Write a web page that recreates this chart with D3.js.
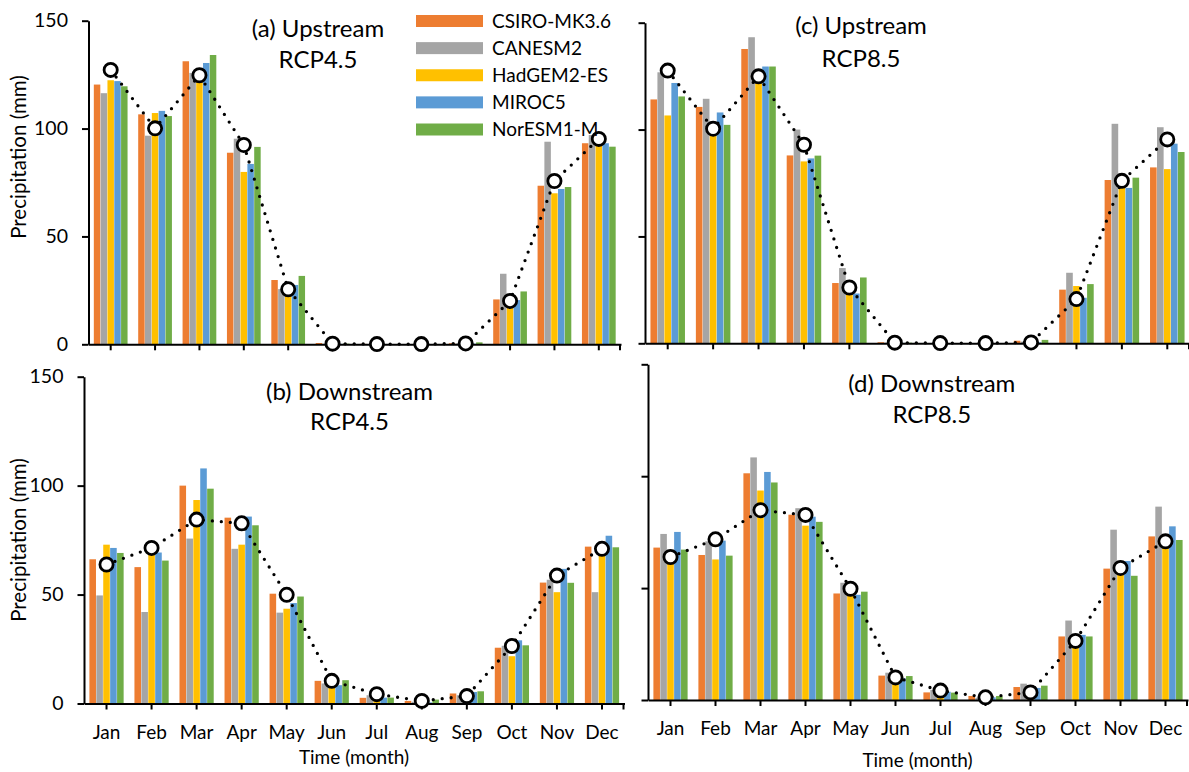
<!DOCTYPE html>
<html><head><meta charset="utf-8">
<script src="https://cdn.jsdelivr.net/npm/d3@7"></script>
<style>
body{margin:0;background:#fff}
svg{display:block}
text{font-family:Lato,"Noto Sans",sans-serif;fill:#000}
</style>
</head><body>
<svg id="chart" width="1189" height="772"></svg>
<script>
// ---------- DATA ----------
const months = ["Jan","Feb","Mar","Apr","May","Jun","Jul","Aug","Sep","Oct","Nov","Dec"];
const models = ["CSIRO-MK3.6","CANESM2","HadGEM2-ES","MIROC5","NorESM1-M"];
const modelColors = ["#ED7D31","#A5A5A5","#FFC000","#5B9BD5","#70AD47"];
const yTicks = [0,50,100,150];

// (a) Upstream RCP4.5 — rows follow `models`
const upstreamRcp45 = [
  [120.4,106.6,131.2,88.8,29.8,0.6,0.2,0.1,0.5,20.8,73.5,93.2],
  [116.4,96.7,125.8,95.3,25.6,0.2,0.1,0.1,0.4,32.7,93.9,97.0],
  [122.4,107.2,123.0,79.9,25.0,0.2,0.1,0.1,0.3,19.5,70.0,93.0],
  [122.0,108.2,130.4,83.6,27.5,0.2,0.1,0.1,0.3,20.5,72.0,93.2],
  [119.6,105.8,134.1,91.5,31.7,0.3,0.1,0.1,0.9,24.5,72.9,91.6]
];
const upstreamRcp45Base = [127.2,100.1,124.7,92.4,25.5,0.3,0.1,0.1,0.4,20.1,75.7,95.2];

// (c) Upstream RCP8.5
const upstreamRcp85 = [
  [114.1,110.6,137.7,87.9,28.2,0.5,0.1,0.1,1.2,25.1,76.4,82.3],
  [126.8,114.4,143.2,100.0,35.2,0.3,0.1,0.1,0.8,33.0,102.7,101.1],
  [106.6,99.0,123.7,85.1,24.9,0.2,0.1,0.1,0.5,26.8,73.1,81.5],
  [121.8,108.0,129.5,86.5,23.3,0.2,0.1,0.1,0.5,21.3,72.7,93.4],
  [115.5,102.2,129.5,87.8,30.8,0.3,0.1,0.1,1.6,27.7,77.5,89.5]
];
const upstreamRcp85Base = [127.6,100.4,124.9,92.9,26.1,0.3,0.1,0.1,0.4,20.7,76.0,95.4];

// (b) Downstream RCP4.5
const downstreamRcp45 = [
  [66.2,62.6,100.0,85.3,50.4,10.4,2.6,1.2,4.6,25.6,55.5,72.0],
  [49.6,42.0,75.7,71.0,41.7,9.2,3.8,0.8,3.8,26.5,56.8,51.1],
  [72.9,68.7,93.4,72.9,43.5,7.6,1.5,0.5,3.0,21.7,51.1,71.0],
  [71.4,69.3,107.9,85.8,46.1,8.4,2.7,0.5,5.3,29.0,61.8,77.0],
  [69.1,65.6,98.6,81.8,49.1,10.7,2.7,1.8,5.6,26.7,55.4,71.7]
];
const downstreamRcp45Base = [63.8,71.4,84.4,82.7,49.9,10.4,4.3,1.2,3.4,26.4,58.7,71.0];

// (d) Downstream RCP8.5
const downstreamRcp85 = [
  [68.1,64.8,101.3,82.8,47.6,10.9,3.4,1.8,5.8,28.4,58.7,73.1],
  [74.2,70.9,108.4,85.7,52.4,12.2,4.5,1.0,7.3,35.5,76.1,86.4],
  [64.2,62.8,93.6,77.9,47.8,9.0,2.2,0.6,6.0,26.9,58.2,70.9],
  [75.1,71.2,101.9,81.9,47.0,9.7,3.7,1.2,5.4,29.1,62.1,77.6],
  [67.2,64.5,97.2,79.6,48.4,10.7,3.3,1.8,6.4,28.4,55.5,71.5]
];
const downstreamRcp85Base = [63.9,71.8,84.8,82.7,49.7,10.1,4.2,1.2,3.4,26.4,59.0,70.9];

// ---------- DRAW ----------
const svg = d3.select("#chart");
const FONT = "Lato, 'Noto Sans', sans-serif";

function panel(o) {
  const g = svg.append("g");
  const x = d3.scaleBand().domain(months).range([o.x0, o.x1]).paddingInner(0).paddingOuter(0);
  const gw = x.bandwidth() * 0.76;
  const xs = d3.scaleBand().domain(models).range([-gw/2, gw/2]).paddingInner(0.05);
  const y = d3.scaleLinear().domain([0,150]).range([o.yBot, o.yTop]);
  const cx = m => x(m) + x.bandwidth()/2;

  models.forEach((m, mi) => {
    g.append("g").selectAll("rect").data(o.values[mi]).join("rect")
      .attr("x", (d,i) => cx(months[i]) + xs(m))
      .attr("width", xs.bandwidth())
      .attr("y", d => y(d))
      .attr("height", d => y(0) - y(d))
      .attr("fill", modelColors[mi]);
  });

  const ya = d3.axisLeft(y).tickValues(yTicks).tickSize(6.5).tickSizeOuter(0).tickPadding(14)
    .tickFormat(o.yLabels ? d3.format("d") : () => "");
  const yg = g.append("g").attr("transform", `translate(${o.x0},0)`).call(ya);
  yg.selectAll("text").attr("font-size", 19.5).attr("font-family", FONT);

  const xa = d3.axisBottom(x).tickSize(6).tickSizeOuter(0).tickPadding(16)
    .tickFormat(o.monthLabels ? d => d : () => "");
  const xg = g.append("g").attr("transform", `translate(0,${y(0)})`).call(xa);
  xg.selectAll("text").attr("font-size", 19).attr("font-family", FONT);

  [yg, xg].forEach(a => {
    a.select(".domain").attr("stroke", "#000").attr("stroke-width", 2);
    a.selectAll(".tick line").attr("stroke", "#000").attr("stroke-width", 2);
  });
  g.append("line").attr("x1", o.x1 - 1).attr("x2", o.x1 - 1)
    .attr("y1", y(0)).attr("y2", y(0) + 6).attr("stroke", "#000").attr("stroke-width", 2);

  const line = d3.line().x((d,i) => cx(months[i])).y(d => y(d));
  g.append("path").datum(o.base).attr("d", line)
    .attr("fill", "none").attr("stroke", "#000").attr("stroke-width", 3.3)
    .attr("stroke-linecap", "round").attr("stroke-dasharray", "0 9");

  g.append("g").selectAll("circle").data(o.base).join("circle")
    .attr("cx", (d,i) => cx(months[i])).attr("cy", d => y(d)).attr("r", 6.6)
    .attr("fill", "#fff").attr("stroke", "#000").attr("stroke-width", 2.8);

  o.title.forEach((t, i) => {
    g.append("text").attr("x", o.titleX).attr("y", o.titleY[i]).attr("text-anchor", "middle")
      .attr("font-size", 24).text(t);
  });

  if (o.yTitle) {
    g.append("text").attr("transform", `translate(${o.yTitle[0]},${o.yTitle[1]}) rotate(-90)`)
      .attr("text-anchor", "middle").attr("dy", "0.35em").attr("font-size", 20.5).text("Precipitation (mm)");
  }
  if (o.xTitle) {
    g.append("text").attr("x", o.xTitle[0]).attr("y", o.xTitle[1]).attr("text-anchor", "middle")
      .attr("font-size", 19).text("Time (month)");
  }
}

panel({x0: 88.5, x1: 621, yTop: 20.7, yBot: 344.3, values: upstreamRcp45, base: upstreamRcp45Base,
  yLabels: true, monthLabels: false, title: ["(a) Upstream", "RCP4.5"], titleX: 318, titleY: [37, 68],
  yTitle: [18.5, 157]});
panel({x0: 645, x1: 1190, yTop: 22.7, yBot: 343.3, values: upstreamRcp85, base: upstreamRcp85Base,
  yLabels: false, monthLabels: false, title: ["(c) Upstream", "RCP8.5"], titleX: 861, titleY: [34, 66.5]});
panel({x0: 84, x1: 624.5, yTop: 376.7, yBot: 703.5, values: downstreamRcp45, base: downstreamRcp45Base,
  yLabels: true, monthLabels: true, title: ["(b) Downstream", "RCP4.5"], titleX: 349.5, titleY: [400, 430],
  yTitle: [18.5, 540], xTitle: [354, 764]});
panel({x0: 648, x1: 1188, yTop: 364.3, yBot: 700, values: downstreamRcp85, base: downstreamRcp85Base,
  yLabels: false, monthLabels: true, title: ["(d) Downstream", "RCP8.5"], titleX: 931.8, titleY: [391.7, 422.7],
  xTitle: [917.5, 767]});

// legend
const lg = svg.append("g");
const ly = d3.scalePoint().domain(models).range([21, 129.5]);
lg.selectAll("rect").data(models).join("rect")
  .attr("x", 416).attr("y", d => ly(d) - 6).attr("width", 67).attr("height", 12)
  .attr("fill", (d,i) => modelColors[i]);
lg.selectAll("text").data(models).join("text")
  .attr("x", 492).attr("y", d => ly(d) + 6.6).attr("font-size", 19).text(d => d);
</script>
</body></html>
